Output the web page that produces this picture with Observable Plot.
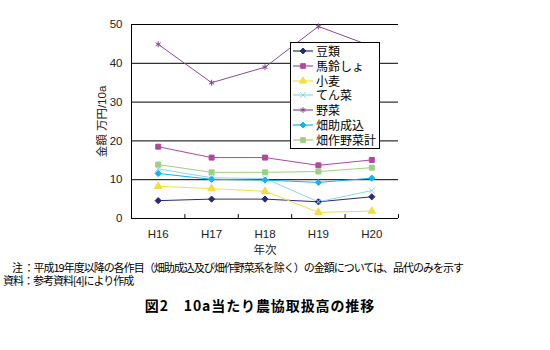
<!DOCTYPE html>
<html><head><meta charset="utf-8">
<script src="https://cdn.jsdelivr.net/npm/d3@7"></script>
<script src="https://cdn.jsdelivr.net/npm/@observablehq/plot@0.6"></script>
<style>
body{margin:0;background:#fff;font-family:"Noto Sans CJK JP",sans-serif;}
#wrap{position:relative;width:550px;height:350px;overflow:hidden;}
#chart{position:absolute;left:0;top:0;}
.note{position:absolute;font-size:11px;white-space:nowrap;color:#000;line-height:12px;height:12px;letter-spacing:-1px;}
#title{position:absolute;top:295px;left:0;width:520px;text-align:center;font-size:14px;font-weight:bold;letter-spacing:0.9px;white-space:nowrap;}
#legend{position:absolute;left:290px;top:42px;width:88px;height:105px;border:1px solid #000;background:#fff;}
.li{position:absolute;left:2px;height:14px;display:flex;align-items:center;font-size:12px;}
.li svg{margin-right:3px;}
.li span{display:inline-block;line-height:14px;height:14px;}
</style></head>
<body>
<div id="wrap">
<div id="chart"></div>
<div id="legend"></div>
<div class="note" style="left:12px;top:261px;">注 ：平成19年度以降の各作目（畑助成込及び畑作野菜系を除く）の金額については、品代のみを示す</div>
<div class="note" style="left:3px;top:274px;">資料：参考資料[4]により作成</div>
<div id="title">図2　10a当たり農協取扱高の推移</div>
</div>
<script>
const years = ["H16","H17","H18","H19","H20"];
const seriesNames = ["豆類","馬鈴しょ","小麦","てん菜","野菜","畑助成込","畑作野菜計"];
const mame     = [4.6, 5.0, 5.0, 4.3, 5.6];
const bareisho = [18.5, 15.7, 15.7, 13.7, 15.1];
const komugi   = [8.3, 7.7, 7.0, 1.6, 1.9];
const tensai   = [12.8, 10.5, 10.3, 4.3, 7.2];
const yasai    = [44.9, 35.0, 39.0, 49.5, 44.4];
const hatajosei= [11.6, 10.1, 9.9, 9.3, 10.4];
const hatasaku = [13.9, 11.9, 11.9, 12.1, 13.1];
const seriesValues = [mame, bareisho, komugi, tensai, yasai, hatajosei, hatasaku];
const colors  = ["#2a2a78","#b0489c","#eee040","#88d8e8","#84408e","#10b4f0","#9cd080"];
const lineColors = ["#2a2a78","#b0489c","#eee040","#88d8e8","#8a4a96","#10b4f0","#9cd080"];
const symbols = ["diamond2","square","triangle","times","asterisk","diamond2","square"];
const yTicks = [0,10,20,30,40,50];

const rows = [];
seriesNames.forEach((s, si) => seriesValues[si].forEach((v, i) => rows.push({series: s, xi: i + 1, year: years[i], value: v})));
const bounds = d3.range(years.length + 1).map(i => i + 0.5);
const centers = years.map((_, i) => i + 1);

const plot = Plot.plot({
  width: 550, height: 262,
  marginLeft: 131, marginRight: 152, marginTop: 24, marginBottom: 44,
  style: {fontFamily: "'Liberation Sans', Arial, 'Noto Sans CJK JP', sans-serif", fontSize: "11px", background: "transparent"},
  x: {type: "linear", domain: [0.5, years.length + 0.5]},
  y: {domain: [0, 50]},
  color: {domain: seriesNames, range: colors},
  symbol: {domain: seriesNames, range: symbols},
  marks: [
    Plot.gridY(yTicks.filter(d => d > 0), {stroke: "#000", strokeOpacity: 1}),
    Plot.ruleY([0], {stroke: "#000"}),
    Plot.ruleX([bounds[0]], {stroke: "#000"}),
    Plot.ruleX(bounds.slice(1), {y1: 0, y2: 1, stroke: "#000"}),
    Plot.axisY({ticks: yTicks, tickSize: 0, tickPadding: 9, fill: "#222", label: "金額 万円/10a", labelAnchor: "center", labelOffset: 34, labelArrow: "none", fontSize: 11.5}),
    Plot.axisX({ticks: centers, tickSize: 0, tickPadding: 11, tickFormat: d => years[d - 1], fill: "#222", label: "年次", labelAnchor: "center", labelOffset: 35, labelArrow: "none", fontSize: 11.5}),
    ...seriesNames.map((s, si) => Plot.line(rows.filter(r => r.series === s), {x: "xi", y: "value", stroke: lineColors[si], strokeWidth: 1})),
    Plot.dot(rows, {x: "xi", y: "value", symbol: "series", fill: "series", stroke: "series", r: 2.8, strokeWidth: 1})
  ]
});
document.getElementById("chart").appendChild(plot);

// legend
const leg = document.getElementById("legend");
seriesNames.forEach((s, i) => {
  const div = document.createElement("div");
  div.className = "li";
  div.style.top = (1 + i * 14.8) + "px";
  const sym = {diamond2: d3.symbolDiamond2, square: d3.symbolSquare, triangle: d3.symbolTriangle, times: d3.symbolTimes, asterisk: d3.symbolAsterisk}[symbols[i]];
  const path = d3.symbol(sym, 22)();
  div.innerHTML = `<svg width="20" height="10"><line x1="0" x2="20" y1="5" y2="5" stroke="${lineColors[i]}" stroke-width="1.2"/><path d="${path}" transform="translate(10,5)" fill="${colors[i]}" stroke="${colors[i]}"/></svg><span>${s}</span>`;
  leg.appendChild(div);
});
</script>
</body></html>
